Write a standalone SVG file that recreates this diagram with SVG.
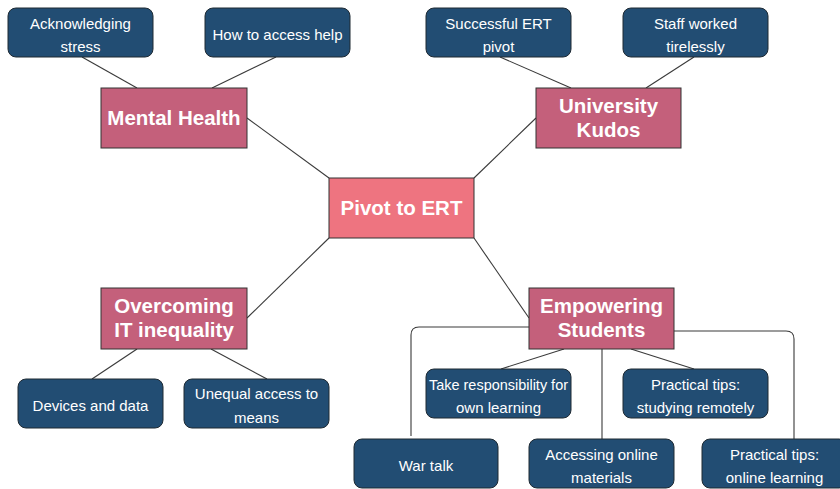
<svg xmlns="http://www.w3.org/2000/svg" width="840" height="489" viewBox="0 0 840 489">
  <style>
    .bg { fill: #ffffff; }
    .leaf rect { fill: #224d73; stroke: #1f2a33; stroke-width: 1; }
    .topic rect { fill: #c4607b; stroke: #333333; stroke-width: 1; }
    .root rect { fill: #ee7480; stroke: #333333; stroke-width: 1; }
    .leaf text { font-family: "Liberation Sans", Arial, sans-serif; font-size: 15px; fill: #ffffff; text-anchor: middle; }
    .topic text, .root text { font-family: "Liberation Sans", Arial, sans-serif; font-size: 20.5px; font-weight: bold; fill: #ffffff; text-anchor: middle; }
    #connectors path, #connectors line { fill: none; stroke: #3a3a3a; stroke-width: 1.1; }
  </style>
  <rect class="bg" x="0" y="0" width="840" height="489"/>

  <g id="connectors">
    <line x1="82" y1="57" x2="137" y2="88"/>
    <line x1="276" y1="57" x2="212" y2="88"/>
    <line x1="247" y1="118" x2="329" y2="178"/>
    <line x1="500" y1="57" x2="571" y2="88"/>
    <line x1="694" y1="57" x2="646" y2="88"/>
    <line x1="536" y1="118" x2="474" y2="178"/>
    <line x1="247" y1="318" x2="329" y2="238"/>
    <line x1="137" y1="349" x2="92" y2="379"/>
    <line x1="211" y1="349" x2="267" y2="379"/>
    <line x1="529" y1="318" x2="474" y2="238"/>
    <line x1="564" y1="349" x2="501" y2="369"/>
    <line x1="631" y1="349" x2="694" y2="369"/>
    <line x1="602" y1="349" x2="602" y2="439"/>
    <path d="M529,327 H419 Q411,327 411,335 V436"/>
    <path d="M674,331 H786 Q794,331 794,339 V439"/>
  </g>

  <g id="acknowledging-stress" class="leaf">
    <rect x="8" y="8" width="145" height="49" rx="8"/>
    <text x="80.5" y="28.5">Acknowledging</text>
    <text x="80.5" y="52">stress</text>
  </g>
  <g id="access-help" class="leaf">
    <rect x="205" y="8" width="145" height="49" rx="8"/>
    <text x="277.5" y="40">How to access help</text>
  </g>
  <g id="successful-pivot" class="leaf">
    <rect x="426" y="8" width="145" height="49" rx="8"/>
    <text x="498.5" y="28.5">Successful ERT</text>
    <text x="498.5" y="52">pivot</text>
  </g>
  <g id="staff-worked" class="leaf">
    <rect x="623" y="8" width="145" height="49" rx="8"/>
    <text x="695.5" y="28.5">Staff worked</text>
    <text x="695.5" y="52">tirelessly</text>
  </g>

  <g id="mental-health" class="topic">
    <rect x="101" y="88" width="146" height="60"/>
    <text x="174" y="125">Mental Health</text>
  </g>
  <g id="university-kudos" class="topic">
    <rect x="536" y="88" width="145" height="60"/>
    <text x="608.5" y="112.5">University</text>
    <text x="608.5" y="136.5">Kudos</text>
  </g>

  <g id="pivot-to-ert" class="root">
    <rect x="329" y="178" width="145" height="60"/>
    <text x="401.5" y="215">Pivot to ERT</text>
  </g>

  <g id="it-inequality" class="topic">
    <rect x="101" y="288" width="146" height="61"/>
    <text x="174" y="313">Overcoming</text>
    <text x="174" y="337">IT inequality</text>
  </g>
  <g id="empowering-students" class="topic">
    <rect x="529" y="288" width="145" height="61"/>
    <text x="601.5" y="313">Empowering</text>
    <text x="601.5" y="337">Students</text>
  </g>

  <g id="devices-data" class="leaf">
    <rect x="18" y="379" width="145" height="49" rx="8"/>
    <text x="90.5" y="411">Devices and data</text>
  </g>
  <g id="unequal-access" class="leaf">
    <rect x="184" y="379" width="145" height="49" rx="8"/>
    <text x="256.5" y="399">Unequal access to</text>
    <text x="256.5" y="422.5">means</text>
  </g>
  <g id="take-responsibility" class="leaf">
    <rect x="426" y="369" width="145" height="49" rx="8"/>
    <text x="498.5" y="389.5" textLength="139" lengthAdjust="spacingAndGlyphs">Take responsibility for</text>
    <text x="498.5" y="413">own learning</text>
  </g>
  <g id="tips-remote" class="leaf">
    <rect x="623" y="369" width="145" height="49" rx="8"/>
    <text x="695.5" y="389.5">Practical tips:</text>
    <text x="695.5" y="413">studying remotely</text>
  </g>
  <g id="war-talk" class="leaf">
    <rect x="354" y="439" width="144" height="49" rx="8"/>
    <text x="426" y="471">War talk</text>
  </g>
  <g id="online-materials" class="leaf">
    <rect x="529" y="439" width="145" height="49" rx="8"/>
    <text x="601.5" y="459.5">Accessing online</text>
    <text x="601.5" y="483">materials</text>
  </g>
  <g id="tips-online" class="leaf">
    <rect x="702" y="439" width="145" height="49" rx="8"/>
    <text x="774.5" y="459.5">Practical tips:</text>
    <text x="774.5" y="483">online learning</text>
  </g>
</svg>
